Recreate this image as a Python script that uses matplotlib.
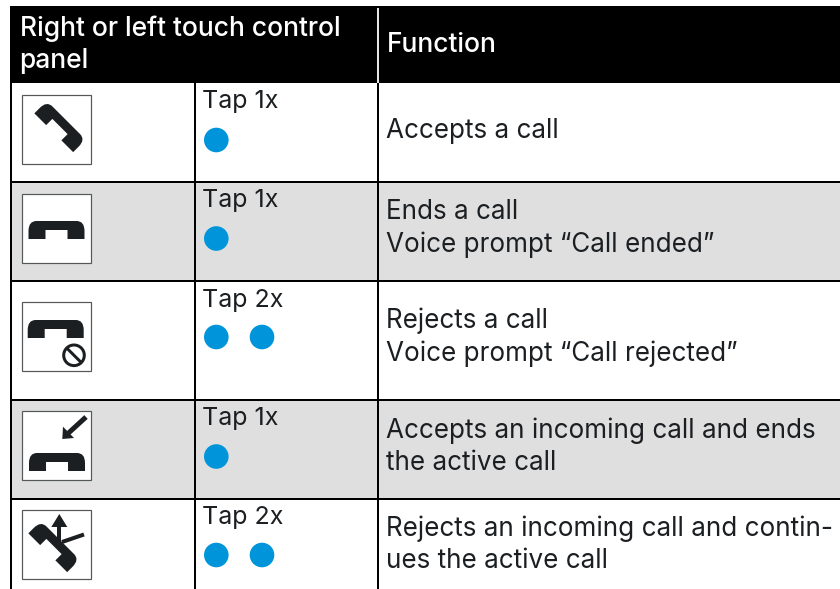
import matplotlib
matplotlib.use("Agg")
import matplotlib.pyplot as plt
from matplotlib.patches import Rectangle, Circle, PathPatch, Polygon
from matplotlib.path import Path
from matplotlib.transforms import Affine2D

plt.rcParams['font.family'] = ['Inter', 'DejaVu Sans']

header_left = ["Right or left touch control", "panel"]
header_right = "Function"
gestures = ["Tap 1x", "Tap 1x", "Tap 2x", "Tap 1x", "Tap 2x"]
tap_counts = [1, 1, 2, 1, 2]
functions = [
    ["Accepts a call"],
    ["Ends a call", "Voice prompt “Call ended”"],
    ["Rejects a call", "Voice prompt “Call rejected”"],
    ["Accepts an incoming call and ends", "the active call"],
    ["Rejects an incoming call and contin-", "ues the active call"],
]

# layout in pixels of the picture
row_lines = [83, 182, 280.5, 400, 498.5, 589]
icon_tops = [94.5, 193.5, 302, 411, 510]
text_y = [108, 207, 306.5, 425, 524]
dot_y = [140, 238.5, 337, 456.5, 555]
func_y = [[138], [219, 252], [328, 361], [438, 470.5], [536, 568]]
INK = '#1c1f22'
BLUE = '#0095db'

fig = plt.figure(figsize=(8.4, 5.89), dpi=100)
ax = fig.add_axes([0, 0, 1, 1])
ax.set_xlim(0, 840)
ax.set_ylim(589, 0)
ax.axis('off')


def px(n):
    return n * 72 / 100


def handset(cx, cy, rot=0, scale=1.0):
    verts = [(-28, 9), (-28, 1), (-28, -9), (-20, -9), (20, -9), (28, -9), (28, 1),
             (28, 9), (11, 9), (11, 0), (-11, 0), (-11, 9), (-28, 9)]
    codes = [Path.MOVETO, Path.LINETO, Path.CURVE3, Path.CURVE3, Path.LINETO, Path.CURVE3, Path.CURVE3,
             Path.LINETO, Path.LINETO, Path.LINETO, Path.LINETO, Path.LINETO, Path.CLOSEPOLY]
    tr = Affine2D().scale(scale).rotate_deg(rot).translate(cx, cy)
    ax.add_patch(PathPatch(Path(verts, codes).transformed(tr), fc=INK, ec='none', zorder=4))


def seg(x0, y0, x1, y1, w=4):
    ax.plot([x0, x1], [y0, y1], color=INK, lw=px(w), solid_capstyle='butt', zorder=4)


def draw_icon(i, top):
    ax.add_patch(Rectangle((22, top), 69, 69, fc='white', ec='#55585a', lw=px(1.2), zorder=3))
    if i == 0:
        handset(60, 126.5, 45, 0.98)
    elif i == 1:
        handset(56.5, 230)
    elif i == 2:
        handset(55.7, 329)
        ax.add_patch(Circle((74, 355.3), 10.3, fc='none', ec=INK, lw=px(3), zorder=4))
        seg(67, 348.3, 81, 362.3, 3)
    elif i == 3:
        handset(57, 462)
        seg(86, 417, 68.5, 433, 5)
        ax.add_patch(Polygon([(62.3, 439), (63, 426.7), (74, 438)], fc=INK, ec='none', zorder=4))
    else:
        handset(54, 546.5, 45, 0.98)
        seg(59.3, 524, 59.3, 541, 4)
        ax.add_patch(Polygon([(59.3, 514), (51.3, 527), (67.3, 527)], fc=INK, ec='none', zorder=4))
        seg(62, 542, 84, 534.5, 4)


# header band and row shading
ax.add_patch(Rectangle((10, 6), 830, 77, fc='black', ec='none', zorder=1))
for i in range(5):
    if i % 2 == 1:
        ax.add_patch(Rectangle((11, row_lines[i]), 829, row_lines[i + 1] - row_lines[i], fc='#dfdfdf', ec='none', zorder=1))

# grid
ax.vlines([11, 195, 378], 83, 589, color='black', lw=px(2), zorder=2)
ax.hlines(row_lines[1:-1], 11, 840, color='black', lw=px(2), zorder=2)
ax.vlines(378, 8, 83, color='white', lw=px(1.8), zorder=2)

# header text
ax.text(19.5, 36, header_left[0], color='white', fontsize=19, va='baseline', fontweight='medium')
ax.text(19.5, 68, header_left[1], color='white', fontsize=19, va='baseline', fontweight='medium')
ax.text(386.5, 52, header_right, color='white', fontsize=19, va='baseline', fontweight='medium')

for i in range(5):
    draw_icon(i, icon_tops[i])
    ax.text(202.5, text_y[i], gestures[i], color=INK, fontsize=18, va='baseline')
    for n in range(tap_counts[i]):
        dx = 216.3 + n * 45.7
        ax.add_patch(Circle((dx, dot_y[i]), 12.3, fc=BLUE, ec='none', zorder=3))
    for line, y in zip(functions[i], func_y[i]):
        ax.text(386.5, y, line, color=INK, fontsize=18.75, va='baseline')

fig.savefig('out.png', dpi=100)
